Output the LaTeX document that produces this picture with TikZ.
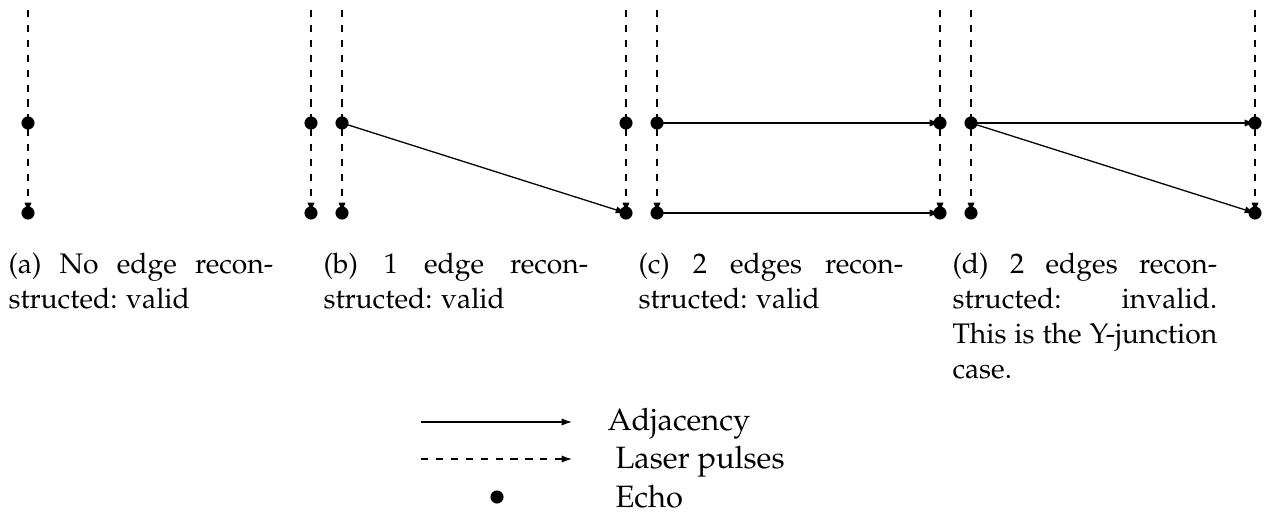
\documentclass[tikz,border=0pt]{standalone}
\usepackage[T1]{fontenc}
\renewcommand{\rmdefault}{ppl}
\usetikzlibrary{arrows.meta,backgrounds}
\begin{document}
\begin{tikzpicture}[x=0.389pt,y=-0.389pt,
  dot/.style={circle,fill=black,inner sep=0pt,minimum size=5.1pt},
  tipstyle/.style={-{Latex[length=4pt,width=2.8pt]}},
  pulse/.style={line width=0.5pt,dash pattern=on 2.8pt off 3pt,tipstyle},
  adj/.style={line width=0.5pt,tipstyle},
  captext/.style={anchor=north west,text width=103pt,align=justify,inner sep=0pt,font=\fontsize{11}{13.6}\selectfont},
  legtext/.style={anchor=base west,inner sep=0pt,font=\fontsize{12}{14}\selectfont}]
\useasboundingbox (0,0) rectangle (1268,515);
% echo dots and pulse tops
\foreach \x [count=\k] in {28,311,342,626,657,940,971,1255} {
  \coordinate (t\k) at (\x,10);
  \node[dot] (m\k) at (\x,123) {};
  \node[dot] (b\k) at (\x,213) {};
}
\begin{scope}[on background layer]
  \foreach \k in {1,...,8} { \draw[pulse] (t\k) -- (b\k.center); }
  % (b)
  \draw[adj] (m3.center) -- (b4.center);
  % (c)
  \draw[adj] (m5.center) -- (m6.center);
  \draw[adj] (b5.center) -- (b6.center);
  % (d)
  \draw[adj] (m7.center) -- (m8.center);
  \draw[adj] (m7.center) -- (b8.center);
\end{scope}
% captions
\node[captext] (capa) at (8,253) {(a) No edge recon\-structed: valid};
\node[captext] (capb) at (323,253) {(b) 1 edge recon\-structed: valid};
\node[captext] (capc) at (638,253) {(c) 2 edges recon\-structed: valid};
\node[captext] (capd) at (952,253) {(d) 2 edges recon\-structed: invalid. This is the \mbox{Y-junction} case.};
% legend
\coordinate (la1) at (421,422);
\coordinate (la2) at (572,422);
\coordinate (lp1) at (421,459);
\coordinate (lp2) at (572,459);
\draw[adj] (la1) -- (la2);
\draw[pulse] (lp1) -- (lp2);
\node[dot] (le) at (497,497) {};
\node[legtext] (ta) at (607,430) {Adjacency};
\node[legtext] (tp) at (615,468) {Laser pulses};
\node[legtext] (te) at (615,507) {Echo};
\end{tikzpicture}
\end{document}
